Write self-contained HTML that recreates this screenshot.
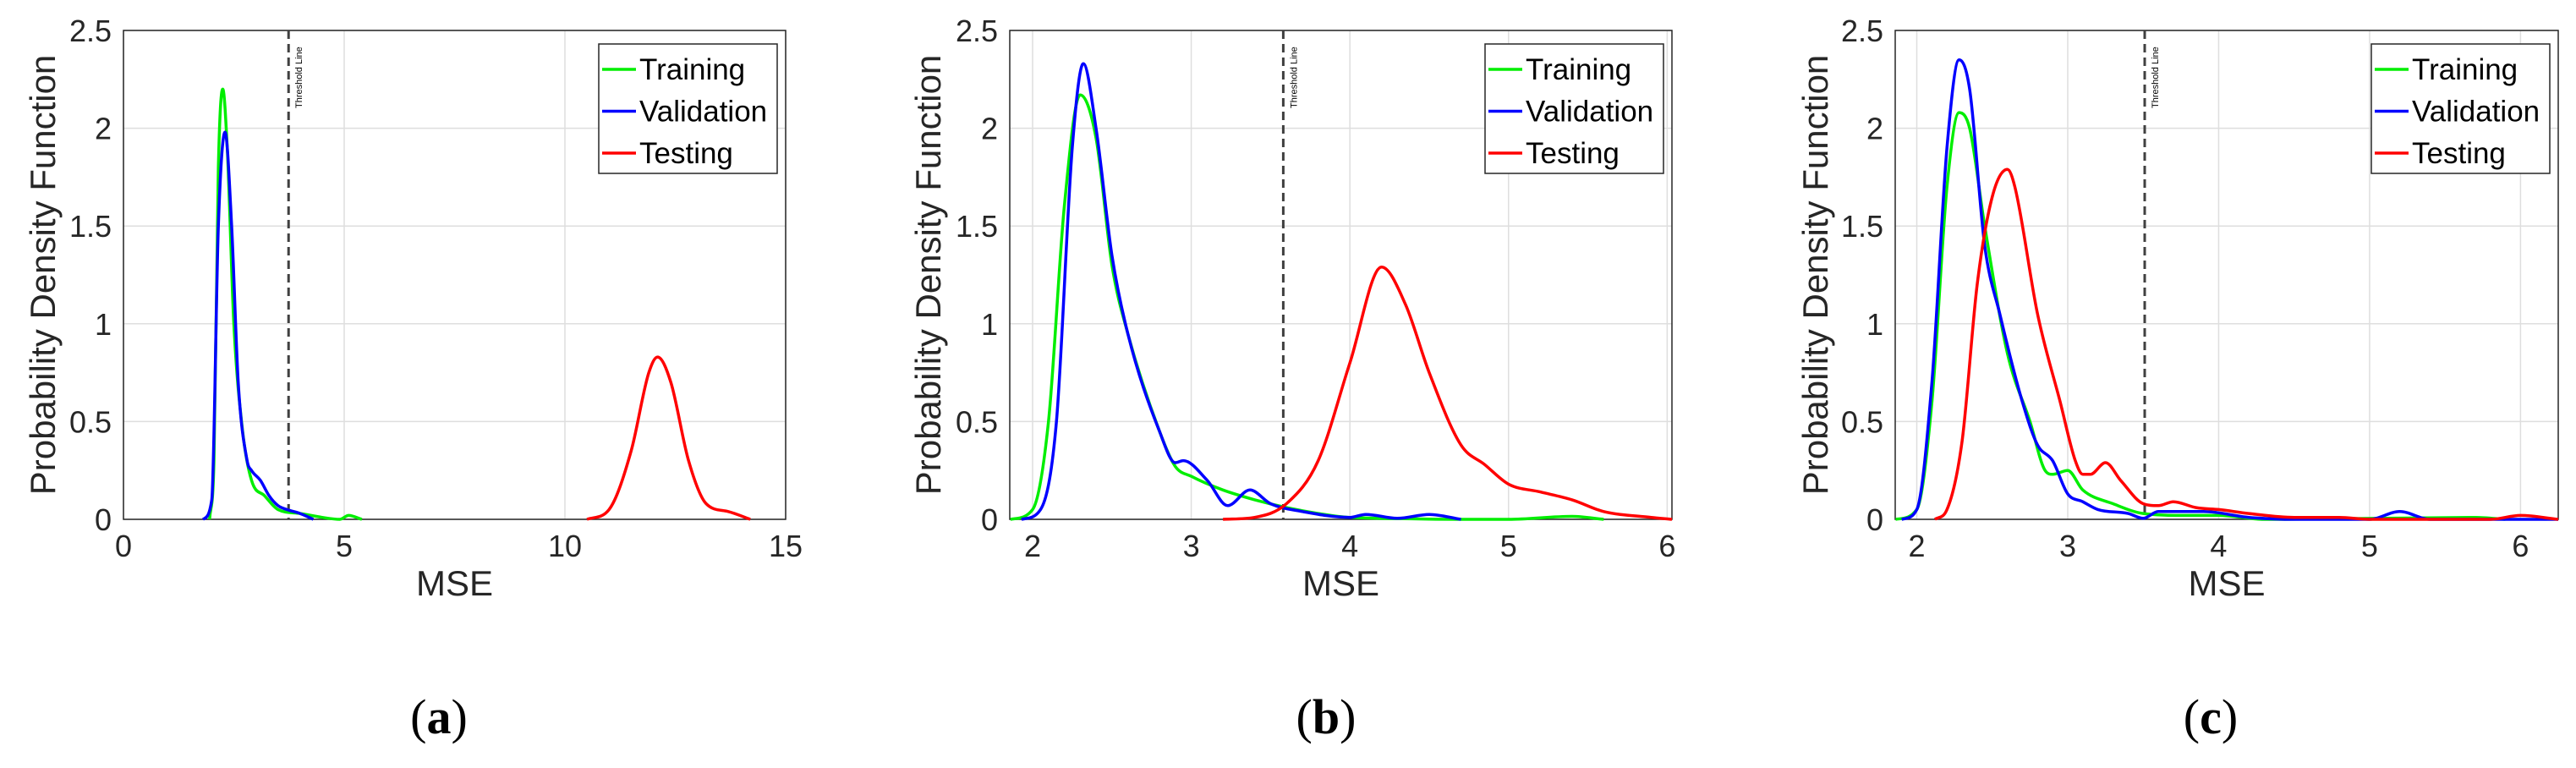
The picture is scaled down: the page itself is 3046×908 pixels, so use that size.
<!DOCTYPE html>
<html><head><meta charset="utf-8"><style>
body{margin:0;background:#fff;}
svg{display:block;font-family:"Liberation Sans",Arial,sans-serif;}
</style></head><body>
<svg id="fig" width="3046" height="908" viewBox="0 0 3046 908" xmlns="http://www.w3.org/2000/svg"></svg>
<script>
// Panel (a)
const aTrainX=[1.95,2.05,2.15,2.25,2.35,2.5,2.7,2.9,3.2,3.5,4.0,4.5,4.9,5.1,5.4];
const aTrainY=[0,0.3,1.8,2.2,1.9,1.0,0.45,0.2,0.12,0.05,0.03,0.01,0.0,0.02,0];
const aValX=[1.8,2.0,2.15,2.3,2.45,2.6,2.8,2.9,3.1,3.3,3.5,3.7,4.0,4.3];
const aValY=[0,0.1,1.5,1.98,1.5,0.7,0.3,0.25,0.2,0.12,0.07,0.05,0.03,0];
const aTestX=[10.5,11,11.5,11.9,12.1,12.4,12.8,13.2,13.7,14.2];
const aTestY=[0,0.05,0.35,0.75,0.83,0.7,0.3,0.08,0.04,0];
// Panel (b)
const bTrainX=[1.86,2.0,2.1,2.2,2.3,2.4,2.5,2.6,2.8,2.9,3.0,3.2,3.4,3.6,3.8,4.0,5.0,5.4,5.6];
const bTrainY=[0,0.05,0.5,1.6,2.17,1.95,1.3,0.95,0.45,0.27,0.22,0.15,0.1,0.06,0.03,0.01,0,0.015,0];
const bValX=[1.93,2.05,2.15,2.25,2.32,2.4,2.5,2.6,2.8,2.9,2.95,3.1,3.23,3.37,3.5,3.7,4.0,4.1,4.3,4.5,4.7];
const bValY=[0,0.05,0.5,1.9,2.33,2.0,1.35,0.95,0.45,0.29,0.3,0.2,0.07,0.15,0.08,0.04,0.01,0.025,0.005,0.025,0];
const bTestX=[3.2,3.4,3.6,3.8,4.0,4.2,4.35,4.5,4.7,4.85,5.0,5.2,5.4,5.6,5.9,6.03];
const bTestY=[0,0.01,0.08,0.3,0.8,1.29,1.1,0.75,0.38,0.28,0.18,0.14,0.1,0.04,0.01,0];
// Panel (c)
const cTrainX=[1.86,2.0,2.1,2.2,2.28,2.35,2.45,2.6,2.75,2.85,2.9,3.0,3.1,3.3,3.5,3.8,4.0,4.3,5.7,5.9];
const cTrainY=[0,0.05,0.6,1.7,2.08,2.0,1.5,0.85,0.5,0.25,0.23,0.25,0.15,0.08,0.03,0.02,0.02,0,0.01,0];
const cValX=[1.9,2.0,2.1,2.2,2.28,2.35,2.45,2.55,2.7,2.8,2.9,3.0,3.1,3.2,3.4,3.5,3.6,3.9,4.2,4.5,5.0,5.2,5.4,6.25];
const cValY=[0,0.05,0.7,1.9,2.35,2.2,1.4,1.05,0.6,0.38,0.3,0.13,0.09,0.05,0.03,0.005,0.04,0.04,0.01,0,0,0.04,0,0];
const cTestX=[2.12,2.2,2.3,2.4,2.5,2.6,2.65,2.8,2.95,3.05,3.1,3.15,3.25,3.35,3.5,3.6,3.7,3.85,4.0,4.2,4.5,4.8,5.0,5.8,6.0,6.25];
const cTestY=[0,0.05,0.4,1.2,1.65,1.79,1.7,1.05,0.6,0.3,0.23,0.23,0.29,0.2,0.08,0.07,0.09,0.06,0.05,0.03,0.01,0.01,0,0,0.02,0];
const yTicks=[0,0.5,1,1.5,2,2.5];
const yTickLabels=["0","0.5","1","1.5","2","2.5"];
const aXTicks=[0,5,10,15];
const bXTicks=[2,3,4,5,6];
const cXTicks=[2,3,4,5,6];
const thresholds=[3.74,3.58,3.51];
const legendLabels=["Training","Validation","Testing"];
const colors=["#00ee00","#0000ff","#ff0000"];

const NS="http://www.w3.org/2000/svg";
const svg=document.getElementById('fig');
function mk(tag,attrs,parent){const e=document.createElementNS(NS,tag);for(const k in attrs)e.setAttribute(k,attrs[k]);(parent||svg).appendChild(e);return e;}
// monotone cubic path (Fritsch-Carlson) in pixel space
function monoPath(px,py){
 const n=px.length;if(n<2)return '';
 const d=[],m=[];
 for(let i=0;i<n-1;i++)d.push((py[i+1]-py[i])/(px[i+1]-px[i]));
 m[0]=d[0];m[n-1]=d[n-2];
 for(let i=1;i<n-1;i++){m[i]=(d[i-1]*d[i]<=0)?0:(d[i-1]+d[i])/2;}
 for(let i=0;i<n-1;i++){
  if(d[i]===0){m[i]=0;m[i+1]=0;continue;}
  const a=m[i]/d[i],b=m[i+1]/d[i],s=a*a+b*b;
  if(s>9){const t=3/Math.sqrt(s);m[i]=t*a*d[i];m[i+1]=t*b*d[i];}
 }
 let p='M'+px[0].toFixed(1)+','+py[0].toFixed(1);
 for(let i=0;i<n-1;i++){
  const h=(px[i+1]-px[i])/3;
  p+=' C'+(px[i]+h).toFixed(1)+','+(py[i]+m[i]*h).toFixed(1)+' '+(px[i+1]-h).toFixed(1)+','+(py[i+1]-m[i+1]*h).toFixed(1)+' '+px[i+1].toFixed(1)+','+py[i+1].toFixed(1);
 }
 return p;
}

const panels=[
 {id:'a',L:146,R:929,xmin:0,xmax:15,xt:aXTicks,ylabX:50,series:[[aTrainX,aTrainY],[aValX,aValY],[aTestX,aTestY]],leg:708,cap:519},
 {id:'b',L:1194,R:1977,xmin:1.856,xmax:6.03,xt:bXTicks,ylabX:1097,series:[[bTrainX,bTrainY],[bValX,bValY],[bTestX,bTestY]],leg:1756,cap:1568},
 {id:'c',L:2241,R:3025,xmin:1.857,xmax:6.25,xt:cXTicks,ylabX:2146,series:[[cTrainX,cTrainY],[cValX,cValY],[cTestX,cTestY]],leg:2804,cap:2614}
];
const T=36,B=614,ymax=2.5;
panels.forEach((p,pi)=>{
 const g=mk('g',{});
 
 
 const sx=v=>p.L+(v-p.xmin)/(p.xmax-p.xmin)*(p.R-p.L);
 const sy=v=>B-v/ymax*(B-T);
 yTicks.forEach((t,i)=>{
  const l=mk('line',{x1:p.L,x2:p.R,y1:sy(t),y2:sy(t),stroke:'#dedede','stroke-width':1.5},g);
  
  
  const tk=mk('text',{x:p.L-14,y:sy(t)+13,'text-anchor':'end','font-size':36,fill:'#262626'},g);
  tk.textContent=yTickLabels[i];
  
  
 });
 p.xt.forEach(t=>{
  const l=mk('line',{x1:sx(t),x2:sx(t),y1:T,y2:B,stroke:'#dedede','stroke-width':1.5},g);
  
  
  const tk=mk('text',{x:sx(t),y:658,'text-anchor':'middle','font-size':36,fill:'#262626'},g);
  tk.textContent=String(t);
  
  
 });
 const box=mk('rect',{x:p.L,y:T,width:p.R-p.L,height:B-T,fill:'none',stroke:'#262626','stroke-width':1.5},g);
 
 
 const tx=sx(thresholds[pi]);
 const th=mk('line',{x1:tx,x2:tx,y1:T,y2:B,stroke:'#404040','stroke-width':3,'stroke-dasharray':'10,6'},g);
 
 
 const tt=mk('text',{x:0,y:0,'font-size':11,fill:'#000',transform:`translate(${tx+16},128) rotate(-90)`},g);
 tt.textContent='Threshold Line';
 
 
 p.series.forEach((s,si)=>{
  const px=s[0].map(sx),py=s[1].map(sy);
  const pl=mk('path',{d:monoPath(px,py),fill:'none',stroke:colors[si],'stroke-width':3.5,'stroke-linejoin':'round'},g);
  
  
 });
 const lg=mk('g',{},g);
 
 
 mk('rect',{x:p.leg,y:52,width:211,height:153,fill:'#fff',stroke:'#262626','stroke-width':1.5},lg);
 legendLabels.forEach((lab,i)=>{
  const yy=82+i*49.5;
  mk('line',{x1:p.leg+4,x2:p.leg+44,y1:yy,y2:yy,stroke:colors[i],'stroke-width':3.5},lg);
  const t=mk('text',{x:p.leg+48,y:yy+12,'font-size':35,fill:'#000'},lg);
  t.textContent=lab;
  
  
 });
 const yl=mk('text',{x:0,y:0,'font-size':42,fill:'#262626','text-anchor':'middle',transform:`translate(${p.ylabX+15},${(T+B)/2}) rotate(-90)`},g);
 yl.textContent='Probability Density Function';
 
 
 const xl=mk('text',{x:(p.L+p.R)/2,y:704,'font-size':42,fill:'#262626','text-anchor':'middle'},g);
 xl.textContent='MSE';
 
 
 const cp=mk('text',{x:p.cap,y:867,'font-size':58,fill:'#000','text-anchor':'middle','font-family':'"Liberation Serif",serif'},g);
 cp.innerHTML='(<tspan font-weight="bold">'+p.id+'</tspan>)';
 
 
});
</script>
</body></html>
